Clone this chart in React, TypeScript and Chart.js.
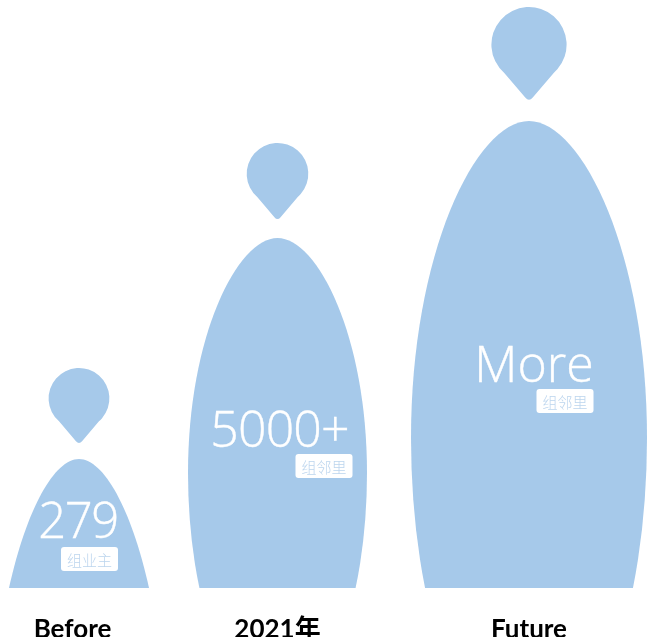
import React, { useEffect, useRef } from "react";
import { Chart, registerables } from "chart.js";

Chart.register(...registerables);

const categories = ["Before", "2021年", "Future"];
const valueLabels = ["279", "5000+", "More"];
const unitLabels = ["组业主", "组邻里", "组邻里"];
const barPositions = [0.79, 2.775, 5.29];
const tickPositions = [0.725, 2.775, 5.29];
const bodyHeights = [129, 350, 467];
const headTips = [144, 368, 487];
const headTops = [220, 445, 581];

const COLOR = "#A6C9EA";
// half width at the widest point, height from the top to the widest point
const bellShapes = [
  { wide: 88, tall: 307 },
  { wide: 89.5, tall: 235 },
  { wide: 118, tall: 317 },
];
// text placed relative to the top of each body
const labelOffsets = [
  { tx: -1, ty: 79, bx: 10.5, by: 88, size: 49, spacing: -1.5 },
  { tx: 2, ty: 209, bx: 46.5, by: 216, size: 50, spacing: -0.8 },
  { tx: 5, ty: 261, bx: 36, by: 268, size: 50, spacing: 0 },
];

function drawBell(ctx: CanvasRenderingContext2D, x: number, top: number, base: number, s: any, width: number) {
  const my = top + s.tall;
  ctx.save();
  ctx.beginPath();
  ctx.rect(0, 0, width, base);
  ctx.clip();
  ctx.beginPath();
  ctx.moveTo(x, top);
  ctx.bezierCurveTo(x + s.wide * 0.45, top, x + s.wide, top + s.tall * 0.42, x + s.wide, my);
  ctx.ellipse(x, my, s.wide, s.tall, 0, 0, Math.PI);
  ctx.bezierCurveTo(x - s.wide, top + s.tall * 0.42, x - s.wide * 0.45, top, x, top);
  ctx.closePath();
  ctx.fill();
  ctx.restore();
}

function drawPin(ctx: CanvasRenderingContext2D, x: number, top: number, tip: number) {
  const r = (tip - top) / 2.5;
  const cy = top + r;
  const a = (48.9 * Math.PI) / 180;
  ctx.beginPath();
  ctx.arc(x, cy, r, Math.PI - a, 2 * Math.PI + a);
  ctx.lineTo(x + 0.1 * r, tip - 0.09 * r);
  ctx.quadraticCurveTo(x, tip + 0.03 * r, x - 0.1 * r, tip - 0.09 * r);
  ctx.closePath();
  ctx.fill();
}

const personPlugin = {
  id: "person",
  afterDatasetsDraw(chart: any) {
    const ctx: any = chart.ctx;
    const bodies = chart.getDatasetMeta(0).data;
    const heads = chart.getDatasetMeta(1).data;
    ctx.save();
    ctx.fillStyle = COLOR;
    bodies.forEach((el: any, i: number) => drawBell(ctx, el.x, el.y, el.base, bellShapes[i], chart.width));
    heads.forEach((el: any) => drawPin(ctx, el.x, el.y, el.base));
    bodies.forEach((el: any, i: number) => {
      const o = labelOffsets[i];
      ctx.fillStyle = "#FFFFFF";
      ctx.strokeStyle = "#FFFFFF";
      ctx.lineWidth = 0.4;
      ctx.letterSpacing = `${o.spacing}px`;
      ctx.font = `300 ${o.size}px "Open Sans", "Noto Sans", sans-serif`;
      ctx.textAlign = "center";
      ctx.textBaseline = "alphabetic";
      ctx.fillText(valueLabels[i], el.x + o.tx, el.y + o.ty);
      ctx.strokeText(valueLabels[i], el.x + o.tx, el.y + o.ty);
      ctx.letterSpacing = "0px";
      const bw = 57, bh = 24;
      const bx = el.x + o.bx - bw / 2;
      const by = el.y + o.by;
      ctx.beginPath();
      ctx.roundRect(bx, by, bw, bh, 3);
      ctx.fill();
      ctx.fillStyle = "#BCD5EE";
      ctx.font = `300 15px "Noto Sans CJK SC", sans-serif`;
      ctx.textBaseline = "middle";
      ctx.fillText(unitLabels[i], bx + bw / 2, by + bh / 2 + 1);
    });
    ctx.restore();
  },
};

export default function App() {
  const ref = useRef<HTMLCanvasElement>(null);
  useEffect(() => {
    document.body.style.margin = "0";
    const chart = new Chart(ref.current as HTMLCanvasElement, {
      type: "bar",
      data: {
        datasets: [
          {
            label: "body",
            data: barPositions.map((x, i) => ({ x, y: bodyHeights[i] })),
            backgroundColor: "transparent",
            barThickness: 2,
            grouped: false,
          },
          {
            label: "head",
            data: barPositions.map((x, i) => ({ x, y: [headTips[i], headTops[i]] })),
            backgroundColor: "transparent",
            barThickness: 2,
            grouped: false,
          },
        ] as any,
      },
      options: {
        animation: false,
        responsive: false,
        layout: { padding: 0 },
        plugins: { legend: { display: false }, tooltip: { enabled: false } },
        scales: {
          x: {
            type: "linear",
            min: 0,
            max: 6.47,
            offset: false,
            grid: { display: false },
            border: { display: false },
            afterBuildTicks(axis: any) {
              axis.ticks = tickPositions.map((value) => ({ value }));
            },
            afterFit(axis: any) {
              axis.height = 49;
            },
            ticks: {
              autoSkip: false,
              maxRotation: 0,
              padding: 18,
              color: "#000000",
              font: { family: 'Lato, "Noto Sans CJK SC", sans-serif', weight: "bold", size: 26 },
              callback: (_v: any, i: number) => categories[i],
            },
          },
          y: { display: false, min: 0, max: 588 },
        },
      } as any,
      plugins: [personPlugin],
    });
    return () => chart.destroy();
  }, []);
  return <canvas ref={ref} width={647} height={637} style={{ display: "block" }} />;
}
